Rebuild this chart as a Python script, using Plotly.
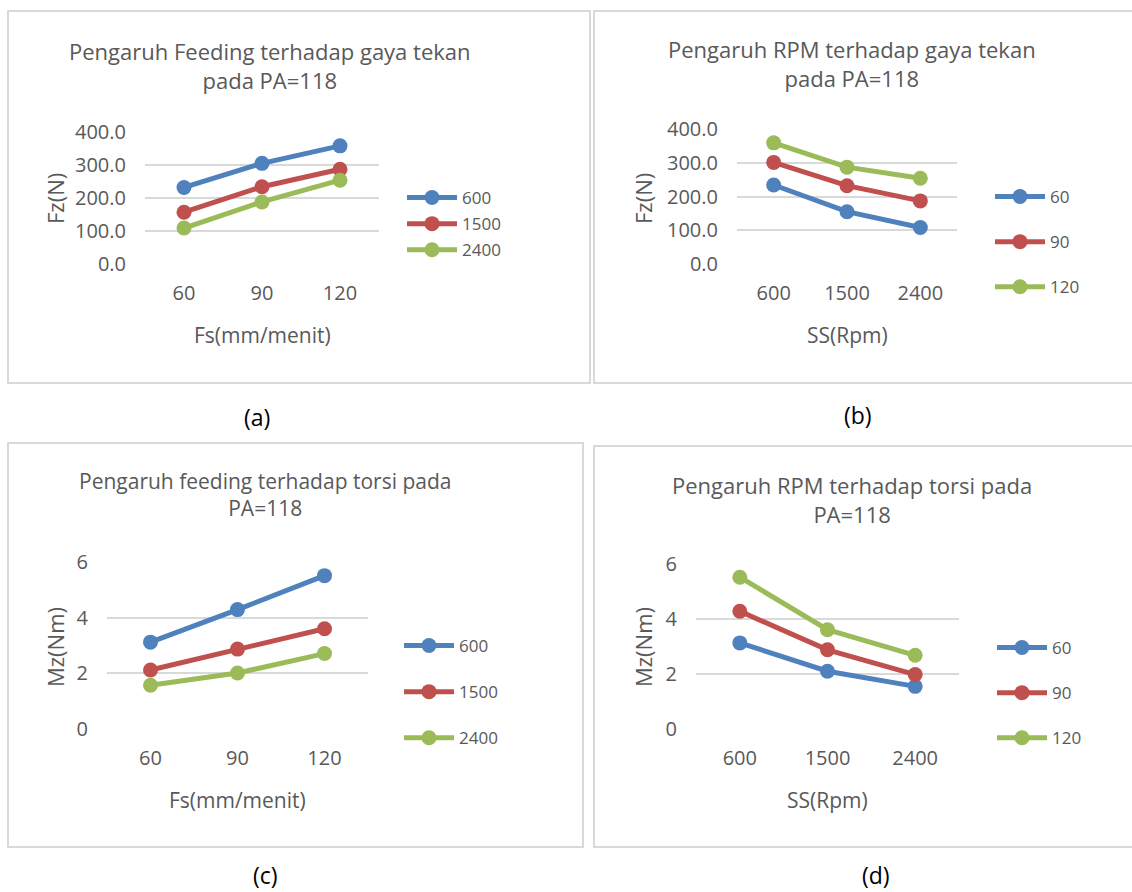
import plotly.graph_objects as go

W, H = 1132, 892

# ---- data ----
fs_labels = ["60", "90", "120"]          # Fs (mm/menit)
ss_labels = ["600", "1500", "2400"]      # SS (Rpm)

# (a) Fz vs Fs, one series per spindle speed
fz_ss600 = [232, 305, 358]
fz_ss1500 = [157, 234, 287]
fz_ss2400 = [109, 188, 254]

# (b) Fz vs SS, one series per feed
fz_fs60 = [234, 155, 108]
fz_fs90 = [301, 232, 187]
fz_fs120 = [359, 287, 254]

# (c) Mz vs Fs, one series per spindle speed
mz_ss600 = [3.12, 4.29, 5.51]
mz_ss1500 = [2.12, 2.87, 3.60]
mz_ss2400 = [1.57, 2.01, 2.71]

# (d) Mz vs SS, one series per feed
mz_fs60 = [3.13, 2.10, 1.55]
mz_fs90 = [4.28, 2.88, 1.98]
mz_fs120 = [5.52, 3.61, 2.68]

titles = [
    "Pengaruh Feeding terhadap gaya tekan<br>pada PA=118",
    "Pengaruh RPM terhadap gaya tekan<br>pada PA=118",
    "Pengaruh feeding terhadap torsi pada<br>PA=118",
    "Pengaruh RPM terhadap torsi pada<br>PA=118",
]
x_titles = ["Fs(mm/menit)", "SS(Rpm)", "Fs(mm/menit)", "SS(Rpm)"]
y_titles = ["Fz(N)", "Fz(N)", "Mz(Nm)", "Mz(Nm)"]
captions = ["(a)", "(b)", "(c)", "(d)"]

BLUE, RED, GREEN = "#4F81BD", "#C0504D", "#9BBB59"
GRID = "#D9D9D9"
TXT = "#595959"
FONT = "Open Sans"


def fx(p):
    return p / W


def fy(p):
    return 1 - p / H


panels = [
    dict(cats=fs_labels, series=[("600", fz_ss600, BLUE), ("1500", fz_ss1500, RED), ("2400", fz_ss2400, GREEN)],
         xdom=(145, 379), ydom=(132, 264), yrange=[0, 400], dtick=100, fmt=".1f",
         leg=(402, 180), gap=1, box=(8, 11, 590, 383), tsize=22,
         title=(270, 65), xt=(262, 335), yt=(55, 199), cap=(257, 417)),
    dict(cats=ss_labels, series=[("60", fz_fs60, BLUE), ("90", fz_fs90, RED), ("120", fz_fs120, GREEN)],
         xdom=(737, 957), ydom=(129, 264), yrange=[0, 400], dtick=100, fmt=".1f",
         leg=(990, 179), gap=20, box=(594, 11, 1140, 383), tsize=22,
         title=(852, 64), xt=(847, 335), yt=(643, 199), cap=(858, 415)),
    dict(cats=fs_labels, series=[("600", mz_ss600, BLUE), ("1500", mz_ss1500, RED), ("2400", mz_ss2400, GREEN)],
         xdom=(107, 368), ydom=(562, 729), yrange=[0, 6], dtick=2, fmt="d",
         leg=(399, 628), gap=21, box=(8, 443, 583, 847), tsize=21,
         title=(265, 494), xt=(237, 800), yt=(55, 647), cap=(265, 875)),
    dict(cats=ss_labels, series=[("60", mz_fs60, BLUE), ("90", mz_fs90, RED), ("120", mz_fs120, GREEN)],
         xdom=(696, 959), ydom=(564, 729), yrange=[0, 6], dtick=2, fmt="d",
         leg=(992, 630), gap=20, box=(594, 446, 1140, 847), tsize=22,
         title=(852, 499), xt=(827, 800), yt=(643, 647), cap=(876, 875)),
]

fig = go.Figure()
layout = dict(
    width=W, height=H, margin=dict(l=0, r=0, t=0, b=0, autoexpand=False),
    autosize=False,
    paper_bgcolor="white", plot_bgcolor="white",
    font=dict(family=FONT, color=TXT),
    showlegend=True,
)
annotations = []
shapes = []

for i, p in enumerate(panels):
    n = "" if i == 0 else str(i + 1)
    xa, ya = "x" + n, "y" + n
    lg = "legend" + n
    for name, vals, col in p["series"]:
        fig.add_trace(go.Scatter(
            x=p["cats"], y=vals, name=name, mode="lines+markers",
            xaxis=xa, yaxis=ya, legend=lg, legendgroup=f"{i}-{name}",
            line=dict(color=col, width=5),
            marker=dict(color=col, size=15),
        ))
    layout["xaxis" + n] = dict(
        domain=[fx(p["xdom"][0]), fx(p["xdom"][1])], anchor=ya,
        type="category", range=[-0.5, 2.5], showgrid=False, zeroline=False,
        showline=False, ticks="", ticklabelstandoff=15, automargin=False,
        tickfont=dict(size=20, color=TXT, family=FONT),
    )
    layout["yaxis" + n] = dict(
        domain=[fy(p["ydom"][1]), fy(p["ydom"][0])], anchor=xa,
        range=p["yrange"], dtick=p["dtick"], tick0=0, tickformat=p["fmt"],
        showgrid=True, gridcolor=GRID, gridwidth=1.5, zeroline=False,
        showline=False, ticks="", ticklabelstandoff=18, automargin=False,
        tickfont=dict(size=20, color=TXT, family=FONT),
    )
    layout[lg] = dict(
        x=fx(p["leg"][0]), y=fy(p["leg"][1]), xanchor="left", yanchor="top",
        bgcolor="rgba(0,0,0,0)", font=dict(size=17, color=TXT, family=FONT),
        itemwidth=50, tracegroupgap=p["gap"],
    )
    annotations.append(dict(
        text=titles[i], x=fx(p["title"][0]), y=fy(p["title"][1]), xref="paper", yref="paper",
        xanchor="center", yanchor="middle",
        showarrow=False, font=dict(size=p["tsize"], color=TXT, family=FONT), align="center",
    ))
    annotations.append(dict(
        text=x_titles[i], x=fx(p["xt"][0]), y=fy(p["xt"][1]), xref="paper", yref="paper",
        xanchor="center", yanchor="middle",
        showarrow=False, font=dict(size=21, color=TXT, family=FONT),
    ))
    annotations.append(dict(
        text=y_titles[i], x=fx(p["yt"][0]), y=fy(p["yt"][1]), xref="paper", yref="paper",
        xanchor="center", yanchor="middle",
        showarrow=False, textangle=-90, font=dict(size=22, color=TXT, family=FONT),
    ))
    annotations.append(dict(
        text=captions[i], x=fx(p["cap"][0]), y=fy(p["cap"][1]), xref="paper", yref="paper",
        xanchor="center", yanchor="middle",
        showarrow=False, font=dict(size=23, color="black", family=FONT),
    ))
    x0, y0, x1, y1 = p["box"]
    shapes.append(dict(
        type="rect", xref="paper", yref="paper",
        x0=fx(x0), x1=fx(x1), y0=fy(y1), y1=fy(y0),
        line=dict(color=GRID, width=2), fillcolor="rgba(0,0,0,0)", layer="below",
    ))

layout["annotations"] = annotations
layout["shapes"] = shapes
fig.update_layout(**layout)
fig.write_html(
    "out.html",
    config={"responsive": False, "displayModeBar": False},
    post_script="document.body.style.margin='0';document.body.style.overflow='hidden';",
)
